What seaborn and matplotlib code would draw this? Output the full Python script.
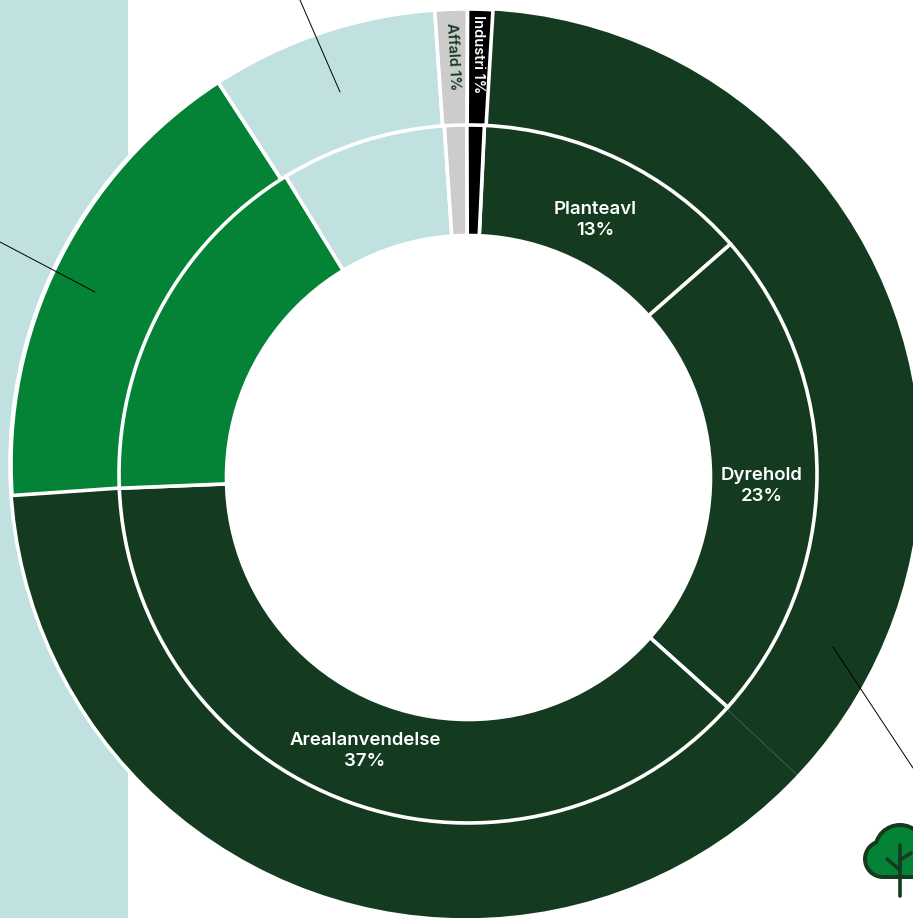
import matplotlib
matplotlib.use("Agg")
import matplotlib.pyplot as plt
import seaborn as sns
from matplotlib.patches import Circle, Rectangle

# shares, clockwise from just right of twelve o'clock
outer_values = [36.06, 36.9, 16.94, 8.07, 1.15, 0.89]
inner_values = [12.8, 23.1, 37.7, 16.9, 7.67, 1.03, 0.8]

dark = "#143a20"
green = "#048336"
light = "#c1e1e0"
grey = "#cccccc"
black = "#000000"
outer_colors = [dark, dark, green, light, grey, black]
inner_colors = [dark, dark, dark, green, light, grey, black]

inner_labels = ["Planteavl\n13%", "Dyrehold\n23%", "Arealanvendelse\n37%"]
label_pos = [(595, 220), (762, 486), (365, 751)]

sns.set_theme(style="white")
plt.rcParams["font.family"] = ["Inter", "DejaVu Sans"]

fig, ax = plt.subplots(figsize=(9.13, 9.18), dpi=100)
fig.subplots_adjust(0, 0, 1, 1)

ax.add_patch(Rectangle((0, 0), 128, 918, color=light, lw=0, zorder=0))

# y axis is flipped below, so counterclock runs clockwise on screen
outer_wedges, _ = ax.pie(
    outer_values,
    colors=outer_colors,
    center=(466, 464),
    radius=455,
    startangle=-86.6,
    wedgeprops=dict(edgecolor="white", linewidth=2.6),
)
# the two dark parts only show a hairline between them
for w in outer_wedges[:2]:
    w.set_edgecolor("none")
    w.set_linewidth(0)
ax.add_patch(Circle((466, 464), 456, fill=False, ec="white", lw=2.6, zorder=3))

ax.pie(
    inner_values,
    colors=inner_colors,
    center=(468, 474),
    radius=349,
    startangle=-87.3,
    wedgeprops=dict(edgecolor="white", linewidth=2.6, zorder=4),
)
ax.add_patch(Circle((468.5, 477.5), 242, fc="white", ec="white", lw=2.6, zorder=5))

for txt, (x, y) in zip(inner_labels, label_pos):
    ax.text(x, y, txt, color="white", fontsize=13.4, fontweight="semibold",
            ha="center", va="center", linespacing=1.3, zorder=6)
ax.text(478, 54.5, "Industri 1%", color="white", fontsize=10.5, fontweight="semibold",
        rotation=-90, ha="center", va="center", zorder=6)
ax.text(452.5, 56, "Affald 1%", color=dark, fontsize=10.5, fontweight="semibold",
        rotation=-87, ha="center", va="center", zorder=6)

# leader lines
for xs, ys in [([300, 340], [0, 92]), ([0, 95], [242, 292]), ([833, 913], [647, 768])]:
    ax.plot(xs, ys, color="black", lw=0.7, zorder=7)

# tree icon, dark shapes first and the same shapes smaller in green on top
for pad, col, z in [(4, dark, 7), (0, green, 8)]:
    ax.add_patch(Circle((883, 859), 16 + pad, fc=col, ec="none", zorder=z))
    ax.add_patch(Circle((900, 850), 23 + pad, fc=col, ec="none", zorder=z))
    ax.add_patch(Circle((917, 859), 16 + pad, fc=col, ec="none", zorder=z))
    ax.add_patch(Rectangle((883, 859), 34, 16 + pad, fc=col, ec="none", zorder=z))
for xs, ys in [([900, 900], [845, 896]), ([887, 900], [859, 870]), ([900, 911], [860, 853])]:
    ax.plot(xs, ys, color=dark, lw=2.6, solid_capstyle="round", zorder=9)

ax.set_xlim(0, 913)
ax.set_ylim(918, 0)
ax.set_aspect("auto")
ax.axis("off")

fig.savefig("out.png", dpi=100)
